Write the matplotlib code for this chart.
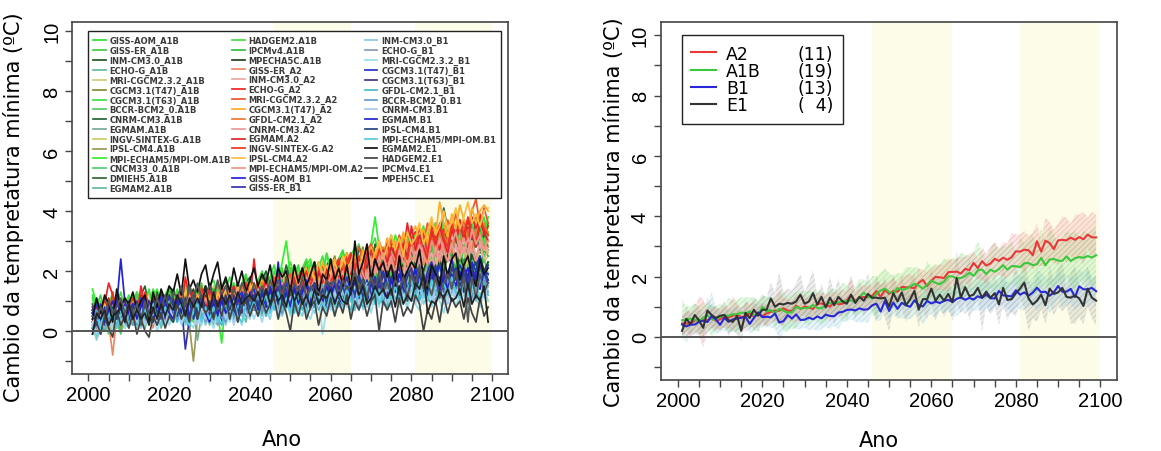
import numpy as np
import matplotlib
matplotlib.use('Agg')
import matplotlib.pyplot as plt
from matplotlib.lines import Line2D
from matplotlib.ticker import MultipleLocator

plt.rcParams['hatch.linewidth'] = 0.5

first_year = 2001
last_year = 2099
periods = [(2046, 2065), (2081, 2100)]   # periodos destacados

# ---------------- cenario A1B (valores em decimos de grau) ----------------
a1b_names = ['GISS-AOM_A1B', 'GISS-ER_A1B', 'INM-CM3.0_A1B', 'ECHO-G_A1B',
             'MRI-CGCM2.3.2_A1B', 'CGCM3.1(T47)_A1B', 'CGCM3.1(T63)_A1B',
             'BCCR-BCM2_0.A1B', 'CNRM-CM3.A1B', 'EGMAM.A1B', 'INGV-SINTEX-G.A1B',
             'IPSL-CM4.A1B', 'MPI-ECHAM5/MPI-OM.A1B', 'CNCM33_0.A1B', 'DMIEH5.A1B',
             'EGMAM2.A1B', 'HADGEM2.A1B', 'IPCMv4.A1B', 'MPECHA5C.A1B']
a1b_colors = ['#33DD33', '#44CC44', '#225522', '#66BB99', '#CCCC77', '#888833',
              '#44DD44', '#55CC66', '#226633', '#77AA99', '#CCCC66', '#999955',
              '#33EE33', '#55CC77', '#336633', '#66BB99', '#44DD44', '#33BB44',
              '#224422']
a1b_runs = [
    [9, 11, 4, 2, 6, 10, 8, 3, 5, 9, 12, 7, 5, 10, 13, 8, 4, 6, 11, 14,
     9, 6, 12, 14, 7, 3, 8, 13, 11, 6, 9, 14, 12, 7, 5, 11, 16, 13, 8, 12,
     15, 10, 13, 18, 14, 9, 16, 20, 15, 11, 16, 20, 13, 11, 17, 21, 15, 12, 18, 22,
     16, 14, 21, 24, 18, 15, 22, 19, 25, 20, 17, 24, 26, 19, 16, 23, 27, 20, 18, 25,
     28, 21, 19, 26, 29, 22, 20, 27, 24, 30, 23, 21, 28, 31, 24, 22, 29, 25, 27],
    [4, 8, 12, 6, 3, 7, 11, 9, 2, 6, 10, 13, 6, 4, 9, 12, 7, 3, 8, 13,
     11, 5, 9, 14, 10, 6, 13, 16, 8, 5, 12, 15, 9, 7, 13, 16, 10, 8, 14, 17,
     12, 9, 16, 19, 13, 11, 17, 21, 14, 12, 19, 22, 15, 13, 20, 23, 16, 14, 21, 18,
     24, 17, 15, 22, 26, 19, 23, 17, 25, 28, 21, 19, 27, 24, 18, 26, 30, 22, 20, 28,
     25, 30, 23, 21, 29, 32, 24, 27, 31, 25, 29, 33, 26, 24, 31, 28, 34, 27, 30],
    [6, 2, -1, 5, 9, 7, 3, 8, 11, 4, 2, 7, 10, 5, 3, 9, 12, 8, 4, 6,
     12, 9, 4, 7, 13, 10, 5, 11, 15, 8, 6, 10, 14, 11, 7, 12, 16, 9, 13, 17,
     12, 8, 14, 18, 13, 10, 15, 19, 16, 11, 14, 19, 16, 12, 18, 22, 15, 13, 20, 17,
     23, 18, 14, 20, 25, 21, 16, 22, 19, 26, 22, 18, 25, 28, 21, 19, 26, 23, 29, 24,
     20, 27, 30, 23, 26, 31, 24, 22, 29, 27, 32, 25, 23, 30, 28, 33, 26, 29, 27],
    [1, -2, 4, 7, 3, 0, 5, 8, 4, 1, 6, 9, 3, 1, 7, 10, 5, 2, 8, 4,
     3, 7, 10, 4, 1, 8, -3, 5, 9, 6, 2, 8, 11, 6, 4, 9, 12, 7, 3, 10,
     13, 8, 5, 11, 14, 9, 6, 12, 15, 10, 7, 13, 10, 6, 14, 16, 9, 12, 8, 15,
     17, 11, 9, 15, 18, 12, 10, 16, 13, 9, 15, 19, 12, 10, 17, 20, 14, 11, 18, 16,
     12, 18, 21, 14, 11, 19, 16, 13, 20, 17, 14, 21, 17, 12, 19, 22, 15, 18, 16],
    [7, 3, 9, 11, 5, 2, 8, 10, 4, 7, 3, 8, 11, 6, 9, 13, 7, 4, 10, 12,
     6, 11, 13, 8, 5, 10, 14, 9, 7, 12, 15, 10, 6, 9, 14, 11, 7, 13, 16, 10,
     8, 13, 17, 12, 9, 15, 18, 11, 14, 19, 13, 17, 20, 14, 12, 18, 21, 16, 13, 19,
     22, 16, 14, 20, 23, 17, 19, 24, 18, 15, 21, 25, 19, 17, 24, 20, 26, 22, 18, 23,
     27, 21, 24, 19, 26, 28, 22, 20, 25, 29, 22, 26, 20, 27, 24, 21, 28, 23, 25],
    [3, 8, 6, 0, 4, 9, 5, 1, 7, 10, 8, 3, 6, 11, 9, 5, 2, 8, 12, 10,
     5, 9, 13, 10, 6, 4, 12, 15, 9, 7, 13, 16, 10, 8, 14, 12, 9, 15, 18, 13,
     10, 15, 19, 14, 11, 17, 20, 13, 16, 21, 17, 14, 20, 23, 16, 19, 22, 18, 15, 21,
     25, 19, 17, 23, 26, 21, 24, 28, 20, 23, 27, 22, 25, 29, 23, 26, 31, 24, 28, 25,
     22, 29, 32, 26, 24, 30, 27, 33, 28, 25, 31, 27, 34, 29, 26, 32, 30, 28, 33],
    [12, 6, 3, 8, 11, 5, 9, 13, 7, 4, 9, 13, 10, 5, 8, 14, 11, 7, 12, 15,
     10, 7, 13, 16, 11, 8, 14, 12, 9, 15, 17, 12, 9, 14, 18, 13, 10, 16, 19, 14,
     11, 17, 20, 15, 18, 22, 16, 13, 19, 23, 18, 15, 21, 24, 19, 17, 23, 20, 26, 21,
     19, 24, 27, 22, 20, 26, 29, 23, 25, 28, 31, 25, 23, 28, 32, 27, 24, 30, 33, 27,
     26, 31, 35, 29, 27, 33, 30, 36, 31, 28, 34, 30, 37, 32, 29, 35, 33, 38, 32],
    [2, 5, 9, 4, 1, 6, 3, -1, 5, 8, 4, 1, 7, 9, 3, 6, 10, 5, 2, 8,
     11, 7, 3, 6, 10, 4, 8, 12, 6, 9, 5, 11, 8, 4, 10, 13, 7, 9, 12, 6,
     10, 14, 8, 11, 15, 9, 7, 13, 16, 10, 13, 9, 15, 17, 11, 14, 18, 12, 10, 16,
     14, 18, 12, 16, 20, 15, 13, 19, 17, 11, 17, 21, 15, 19, 14, 18, 22, 16, 20, 17,
     15, 21, 18, 23, 17, 20, 24, 18, 16, 22, 19, 23, 17, 21, 25, 18, 20, 24, 19],
    [6, 10, 7, 2, 9, 4, 12, 8, 3, 7, 10, 6, 12, 15, 8, 11, 4, 13, 9, 12,
     14, 10, 6, 11, 15, 12, 7, 13, 10, 16, 12, 8, 14, 17, 11, 15, 13, 9, 16, 18,
     14, 11, 17, 20, 15, 13, 19, 16, 22, 17, 20, 16, 14, 21, 18, 23, 19, 15, 22, 24,
     18, 23, 26, 21, 24, 19, 28, 24, 27, 22, 29, 25, 23, 28, 31, 26, 22, 29, 32, 27,
     33, 28, 26, 34, 30, 36, 31, 41, 34, 29, 32, 37, 31, 35, 30, 38, 33, 31, 36],
    [-1, 3, 8, 5, 2, 6, 9, 4, 1, 7, 3, 8, 5, 10, 7, 2, 9, 6, 4, 11,
     7, 10, 4, 9, 6, 12, 8, 3, 11, 7, 10, 13, 7, 5, 11, 14, 9, 12, 6, 14,
     9, 13, 10, 16, 12, 8, 11, 17, 13, 15, 10, 17, 14, 12, 16, 19, 13, 11, 18, 15,
     16, 12, 18, 21, 15, 13, 19, 17, 22, 16, 20, 15, 23, 18, 14, 21, 24, 17, 19, 22,
     17, 24, 20, 15, 23, 19, 26, 21, 17, 24, 19, 23, 18, 26, 21, 17, 24, 20, 22],
    [7, 2, 9, 6, 10, 4, 11, 7, 9, 3, 10, 7, 2, 9, 13, 5, 10, 8, 12, 7,
     3, 11, 9, 14, 10, 6, 12, 7, 11, 15, 8, 12, 16, 11, 7, 13, 10, 15, 12, 8,
     16, 13, 9, 17, 14, 18, 11, 15, 19, 13, 16, 20, 13, 17, 12, 21, 18, 15, 19, 22,
     15, 20, 23, 17, 21, 18, 24, 20, 16, 25, 21, 26, 22, 18, 27, 23, 20, 28, 24, 21,
     28, 22, 25, 29, 23, 26, 20, 30, 25, 27, 23, 29, 26, 21, 30, 25, 27, 31, 26],
    [3, 8, 1, 7, 2, 9, 5, 0, 8, 4, 9, 5, 2, 10, 7, 3, 12, 8, 4, 9,
     6, 10, 3, 8, 2, -10, 4, 9, 6, 12, 7, 12, 10, 5, 14, 8, 11, 15, 9, 12,
     16, 10, 13, 17, 11, 14, 18, 12, 15, 19, 13, 16, 20, 14, 18, 22, 16, 19, 15, 23,
     19, 16, 21, 25, 20, 22, 17, 24, 27, 21, 24, 28, 21, 25, 23, 29, 26, 23, 30, 25,
     27, 31, 25, 28, 33, 27, 29, 24, 32, 28, 30, 34, 27, 31, 26, 33, 29, 35, 30],
    [14, 9, 4, 10, 6, 11, 7, 3, 9, 12, 6, 10, 13, 8, 5, 11, 14, 9, 6, 12,
     9, 13, 6, 10, 15, 11, 7, 13, 9, 14, 10, 6, -4, 11, 14, 9, 13, 10, 15, 12,
     16, 11, 14, 18, 13, 20, 16, 23, 30, 19, 15, 21, 17, 22, 24, 18, 23, 19, 25, 21,
     19, 24, 26, 21, 25, 28, 22, 27, 24, 29, 38, 28, 25, 30, 26, 32, 28, 25, 31, 27,
     33, 29, 27, 34, 30, 36, 31, 28, 35, 33, 30, 35, 31, 37, 33, 29, 36, 32, 38],
    [1, 5, 9, 3, -1, 6, 2, 8, 4, 10, 6, 3, 9, 1, 8, 5, 10, 6, 2, 9,
     11, 7, 4, 10, 5, 12, 8, 3, 10, 6, 4, 10, 7, 12, 8, 5, 11, 13, 8, 6,
     12, 7, 14, 10, 13, 8, 15, 11, 14, 9, 16, 12, 9, 15, 17, 12, 10, 16, 11, 18,
     14, 11, 17, 19, 12, 15, 18, 13, 20, 16, 12, 19, 16, 21, 17, 13, 20, 17, 22, 18,
     15, 21, 18, 14, 22, 19, 16, 23, 18, 21, 17, 23, 15, 22, 19, 24, 20, 16, 23],
    [9, 3, 7, 11, 5, 8, 6, 2, 10, 7, 4, 10, 7, 12, 8, 5, 13, 9, 6, 11,
     13, 8, 12, 9, 14, 10, 6, 12, 15, 9, 7, 13, 10, 15, 11, 8, 14, 11, 16, 12,
     9, 15, 12, 17, 13, 10, 16, 19, 14, 17, 12, 18, 21, 16, 19, 14, 20, 17, 22, 18,
     15, 21, 18, 23, 19, 25, 20, 16, 24, 21, 26, 22, 19, 27, 23, 20, 28, 24, 21, 27,
     22, 29, 25, 21, 30, 26, 23, 31, 27, 24, 30, 26, 32, 28, 24, 31, 27, 33, 28],
    [-1, 4, 7, 2, 8, 1, 5, 10, 3, 6, 9, 2, 6, 3, 10, 5, 8, 1, 6, 9,
     4, 7, 11, 5, 3, 9, 4, 10, 7, 2, 8, 5, 10, 4, 11, 7, 12, 8, 5, 9,
     13, 7, 10, 6, 12, 14, 8, 12, 9, 15, 11, 8, 14, 16, 9, 12, 15, 10, 17, 13,
     9, 15, 12, 17, 13, 18, 15, 11, 17, 14, 19, 15, 12, 18, 16, 20, 13, 18, 15, 21,
     17, 14, 20, 22, 15, 18, 13, 21, 16, 19, 22, 15, 19, 16, 23, 17, 21, 14, 19],
    [11, 5, 10, 4, 8, 13, 6, 10, 5, 11, 7, 12, 6, 10, 14, 8, 5, 12, 7, 13,
     10, 14, 8, 6, 13, 10, 15, 11, 7, 14, 11, 8, 15, 12, 9, 16, 13, 10, 17, 14,
     12, 17, 14, 12, 18, 15, 20, 16, 13, 19, 22, 17, 20, 15, 23, 18, 21, 25, 19, 22,
     17, 23, 20, 26, 21, 24, 18, 25, 27, 22, 24, 28, 22, 26, 29, 23, 27, 31, 25, 28,
     30, 25, 32, 27, 24, 31, 28, 34, 29, 26, 32, 27, 34, 30, 36, 28, 33, 29, 35],
    [5, 9, 3, 8, 2, 6, 10, 4, 9, 3, 8, 4, 11, 5, 9, 3, 10, 7, 12, 5,
     10, 6, 4, 11, 8, 13, 5, 10, 6, 12, 14, 8, 12, 7, 13, 10, 6, 14, 11, 8,
     13, 9, 15, 11, 16, 12, 9, 17, 13, 10, 14, 18, 12, 16, 20, 15, 13, 19, 14, 18,
     21, 15, 19, 14, 22, 19, 16, 23, 17, 21, 16, 22, 24, 18, 23, 17, 25, 21, 18, 24,
     26, 20, 25, 22, 18, 27, 23, 20, 28, 24, 21, 27, 22, 26, 29, 23, 20, 27, 25],
    [7, 10, 4, 9, 3, 8, 11, 5, 2, 8, 10, 5, 12, 7, 4, 11, 8, 13, 5, 10,
     6, 12, 8, 5, 11, 14, 9, 6, 12, 7, 13, 10, 7, 14, 8, 12, 15, 10, 7, 13,
     9, 14, 11, 16, 12, 8, 15, 12, 17, 13, 10, 16, 13, 18, 14, 11, 17, 20, 15, 12,
     18, 14, 20, 16, 13, 21, 18, 15, 22, 17, 20, 23, 17, 21, 16, 24, 19, 22, 25, 20,
     17, 23, 20, 25, 21, 18, 24, 19, 26, 22, 19, 25, 21, 18, 26, 22, 25, 20, 23],
]

# ---------------- cenario A2 ----------------
a2_names = ['GISS-ER_A2', 'INM-CM3.0_A2', 'ECHO-G_A2', 'MRI-CGCM2.3.2_A2',
            'CGCM3.1(T47)_A2', 'GFDL-CM2.1_A2', 'CNRM-CM3.A2', 'EGMAM.A2',
            'INGV-SINTEX-G.A2', 'IPSL-CM4.A2', 'MPI-ECHAM5/MPI-OM.A2']
a2_colors = ['#EE8866', '#E8AAA0', '#EE2222', '#EE5533', '#FFAA22', '#EE7733',
             '#EE9999', '#DD2233', '#EE3322', '#FFBB44', '#EE9988']
a2_runs = [
    [2, 6, -1, 7, 3, -8, 5, 8, 1, 7, 5, 2, 9, 4, 8, 1, 7, 10, 4, 8,
     3, 9, 6, 11, 4, 7, 12, 5, 9, 13, 6, 10, 14, 8, 11, 5, 12, 9, 15, 10,
     13, 8, 14, 11, 16, 9, 17, 12, 18, 13, 10, 16, 13, 19, 14, 17, 11, 20, 15, 18,
     21, 15, 19, 23, 16, 21, 18, 24, 19, 25, 20, 26, 19, 27, 22, 28, 23, 20, 29, 24,
     25, 30, 22, 28, 32, 26, 23, 31, 27, 33, 28, 25, 34, 29, 26, 35, 30, 27, 32],
    [5, 0, 7, 2, 6, 1, 8, 3, 7, 2, 8, 5, 1, 9, 6, 3, 10, 4, 8, 6,
     9, 4, 10, 6, 3, 12, 7, 10, 5, 8, 11, 6, 9, 13, 7, 12, 9, 5, 13, 10,
     14, 9, 12, 8, 15, 11, 14, 9, 16, 12, 15, 11, 17, 13, 10, 18, 14, 17, 12, 19,
     14, 18, 20, 15, 21, 17, 14, 22, 18, 21, 23, 18, 16, 24, 20, 25, 21, 18, 26, 22,
     25, 20, 27, 23, 26, 21, 28, 24, 27, 22, 29, 24, 28, 23, 30, 25, 29, 24, 27],
    [3, 7, 1, 9, 16, 12, 4, 8, 3, 7, 11, 5, 15, 8, 4, 10, 6, 12, 5, 8,
     4, 10, 6, 18, 11, 13, 7, 12, 9, 14, 10, 13, 7, 15, 11, 8, 14, 12, 16, 10,
     24, 13, 10, 16, 12, 15, 17, 12, 18, 15, 12, 18, 15, 20, 16, 13, 19, 22, 17, 20,
     23, 17, 21, 25, 19, 24, 21, 26, 22, 27, 23, 28, 24, 21, 29, 25, 30, 26, 36, 28,
     31, 26, 33, 29, 35, 31, 27, 34, 30, 36, 32, 37, 33, 29, 38, 34, 39, 32, 35],
    [6, 1, 8, 3, 9, 5, 2, 10, 6, 3, 9, 5, 11, 4, 7, 12, 8, 5, 10, 6,
     11, 6, 13, 9, 5, 12, 8, 14, 10, 6, 12, 8, 14, 10, 13, 7, 15, 11, 8, 14,
     16, 11, 15, 17, 12, 18, 14, 11, 17, 19, 14, 18, 20, 15, 21, 17, 22, 18, 15, 23,
     19, 24, 21, 26, 22, 25, 28, 23, 27, 29, 25, 30, 26, 23, 31, 27, 32, 28, 25, 33,
     29, 34, 30, 36, 31, 27, 35, 32, 37, 33, 39, 34, 37, 32, 40, 44, 35, 41, 36],
    [7, 2, 9, 5, 1, 8, 3, 6, 10, 4, 2, 8, 5, 9, 6, 11, 3, 7, 10, 5,
     8, 12, 6, 9, 13, 8, 5, 11, 14, 9, 12, 7, 13, 10, 15, 11, 8, 14, 11, 16,
     12, 15, 17, 13, 10, 16, 18, 14, 17, 12, 19, 15, 18, 21, 16, 20, 17, 23, 18, 21,
     24, 19, 23, 26, 21, 25, 20, 27, 23, 28, 24, 29, 25, 31, 27, 30, 26, 33, 28, 32,
     35, 30, 34, 29, 37, 32, 43, 36, 31, 39, 34, 42, 37, 35, 41, 36, 40, 42, 40],
    [8, 3, 1, 7, 2, 9, 5, 8, 3, 6, 10, 4, 8, 3, 9, 6, 11, 7, 4, 10,
     5, 10, 12, 6, 11, 8, 5, 12, 9, 13, 8, 12, 7, 14, 10, 13, 8, 15, 11, 9,
     14, 10, 16, 12, 15, 17, 12, 16, 11, 18, 13, 17, 20, 15, 18, 13, 21, 18, 15, 22,
     17, 21, 16, 23, 20, 24, 18, 22, 25, 21, 26, 21, 28, 24, 20, 27, 29, 25, 22, 30,
     25, 31, 27, 23, 32, 29, 34, 27, 31, 26, 33, 28, 35, 31, 27, 34, 30, 36, 32],
    [0, 4, 7, 1, 5, 9, 2, 6, 3, 8, 4, 9, 3, 6, 10, 4, 8, 2, 9, 5,
     10, 5, 9, 4, 11, 7, 10, 13, 5, 8, 6, 11, 8, 12, 9, 5, 13, 10, 7, 12,
     9, 14, 11, 8, 15, 12, 9, 16, 13, 10, 17, 12, 15, 11, 18, 14, 16, 20, 15, 12,
     17, 21, 15, 18, 22, 16, 19, 23, 17, 24, 19, 25, 21, 18, 26, 22, 19, 27, 23, 20,
     27, 22, 29, 25, 21, 28, 24, 30, 26, 29, 24, 30, 26, 31, 27, 23, 30, 27, 28],
    [4, 8, 2, 6, 11, 5, 9, 3, 7, 5, 9, 4, 12, 7, 3, 10, 6, 11, 8, 4,
     10, 6, 11, 5, 13, 8, 12, 9, 6, 14, 10, 7, 13, 9, 12, 15, 10, 13, 8, 14,
     11, 15, 12, 17, 13, 10, 16, 14, 18, 11, 17, 14, 19, 15, 18, 12, 20, 16, 21, 17,
     19, 23, 17, 21, 25, 20, 24, 18, 26, 22, 24, 20, 27, 23, 28, 25, 21, 29, 24, 35,
     27, 32, 28, 24, 33, 29, 35, 30, 26, 34, 30, 35, 31, 37, 32, 28, 36, 33, 30],
    [5, 9, 2, 8, 4, 13, 6, 10, 4, 9, 6, 10, 7, 13, 8, 4, 11, 7, 10, 12,
     8, 12, 9, 6, 13, 10, 7, 14, 10, 8, 13, 8, 15, 11, 7, 14, 11, 8, 16, 12,
     15, 10, 13, 18, 12, 16, 19, 13, 17, 14, 18, 13, 16, 20, 15, 19, 22, 17, 20, 15,
     21, 24, 18, 23, 26, 21, 25, 19, 23, 27, 22, 27, 24, 29, 25, 22, 30, 27, 24, 31,
     33, 28, 32, 26, 34, 30, 36, 31, 28, 35, 31, 36, 32, 38, 33, 29, 37, 34, 32],
    [2, 7, 4, 9, 5, 1, 8, 5, 9, 3, 7, 10, 4, 9, 6, 11, 7, 3, 10, 7,
     11, 6, 9, 13, 8, 5, 12, 9, 14, 10, 7, 13, 10, 14, 8, 11, 15, 12, 9, 14,
     16, 11, 14, 10, 17, 13, 15, 19, 14, 16, 20, 15, 18, 14, 21, 17, 23, 18, 22, 19,
     23, 19, 25, 21, 23, 27, 21, 25, 28, 22, 26, 30, 24, 28, 32, 27, 31, 25, 33, 29,
     31, 36, 29, 33, 38, 32, 35, 40, 34, 36, 41, 34, 38, 43, 36, 39, 35, 40, 41],
    [7, 2, 8, 3, 0, 5, 9, 3, 6, 10, 4, 8, 3, 9, 6, 2, 10, 5, 8, 4,
     7, 11, 5, 8, 12, 6, 9, 5, 11, 8, 12, 7, 10, 6, 13, 9, 14, 10, 7, 12,
     8, 14, 11, 15, 9, 12, 16, 10, 13, 17, 12, 16, 11, 18, 14, 17, 12, 19, 15, 18,
     21, 16, 20, 15, 22, 18, 23, 19, 16, 24, 19, 22, 26, 20, 25, 19, 27, 23, 20, 28,
     23, 29, 25, 22, 30, 26, 31, 27, 23, 29, 33, 27, 31, 26, 34, 29, 32, 27, 30],
]

# ---------------- cenario B1 ----------------
b1_names = ['GISS-AOM_B1', 'GISS-ER_B1', 'INM-CM3.0_B1', 'ECHO-G_B1',
            'MRI-CGCM2.3.2_B1', 'CGCM3.1(T47)_B1', 'CGCM3.1(T63)_B1',
            'GFDL-CM2.1_B1', 'BCCR-BCM2_0.B1', 'CNRM-CM3.B1', 'EGMAM.B1',
            'IPSL-CM4.B1', 'MPI-ECHAM5/MPI-OM.B1']
b1_colors = ['#2222DD', '#3333AA', '#88CCDD', '#8899BB', '#99DDEE', '#2233CC',
             '#443388', '#44BBCC', '#6699CC', '#AACCEE', '#2222CC', '#224488',
             '#55CCDD']
b1_runs = [
    [7, 1, 5, 2, 8, 4, 9, 24, 10, 5, 8, 3, 9, 4, 10, 6, 2, 7, 11, 5,
     9, 4, 10, 6, 2, 8, 4, 9, 3, 6, 10, 4, 8, 3, 9, 6, 11, 7, 10, 12,
     7, 13, 9, 12, 6, 10, 14, 8, 12, 7, 13, 10, 14, 8, 11, 15, 9, 13, 8, 14,
     10, 15, 12, 9, 16, 11, 14, 17, 11, 15, 18, 12, 16, 11, 17, 14, 19, 15, 12, 18,
     14, 19, 13, 17, 20, 15, 18, 13, 19, 16, 20, 14, 18, 21, 15, 19, 14, 20, 17],
    [1, 6, 2, 7, 4, 8, 2, 5, 9, 3, 7, 2, 8, 5, 9, 3, 6, 10, 4, 8,
     11, 5, 9, -6, 4, 10, 6, 3, 8, 4, 5, 9, 3, 8, 4, 10, 6, 9, 11, 7,
     10, 12, 7, 11, 13, 8, 12, 7, 14, 10, 12, 8, 13, 15, 9, 14, 11, 8, 13, 16,
     11, 9, 15, 10, 14, 17, 11, 15, 10, 16, 12, 17, 14, 11, 18, 15, 12, 17, 13, 19,
     17, 12, 18, 15, 20, 13, 16, 19, 14, 18, 13, 19, 16, 12, 18, 20, 14, 19, 16],
    [2, -3, 1, 5, 0, 6, 3, 7, 1, 4, 2, 7, 1, 6, 8, 3, 2, 7, 9, 4,
     7, 3, 8, 2, 5, 9, 3, 7, 2, 5, 3, 8, 5, 2, 7, 3, 9, 5, 8, 6,
     9, 5, 10, 7, 4, 11, 8, 5, 10, 6, 11, 7, 5, 12, 9, 6, 11, 7, 13, 8,
     6, 12, 9, 13, 10, 7, 12, 14, 8, 11, 13, 9, 14, 8, 11, 15, 9, 13, 8, 14,
     10, 15, 9, 12, 16, 10, 14, 9, 15, 12, 14, 10, 16, 11, 9, 15, 12, 14, 10],
    [5, 1, 7, 2, 6, 8, 3, 7, 2, 5, 8, 4, 2, 7, 9, 3, 8, 5, 10, 6,
     4, 9, 6, 3, 8, 4, 10, 6, 3, 7, 4, 2, 8, 5, 9, 6, 3, 9, 6, 10,
     7, 11, 8, 5, 12, 9, 6, 11, 13, 8, 12, 8, 14, 10, 7, 13, 10, 15, 11, 8,
     14, 10, 8, 13, 15, 9, 14, 11, 16, 12, 9, 15, 12, 16, 10, 14, 17, 11, 15, 10,
     16, 11, 15, 18, 13, 10, 17, 14, 11, 16, 18, 12, 16, 11, 17, 14, 19, 12, 15],
    [3, -1, 5, 1, 6, 0, 4, 7, 1, 3, 6, 1, 5, 7, 2, 6, 0, 4, 8, 2,
     5, 8, 2, 7, 3, 1, 6, 2, 7, 4, 1, 6, 2, 7, 3, 8, 5, 2, 7, 9,
     4, 8, 3, 9, 5, 10, 4, 7, 11, 5, 9, 5, 10, 6, 4, 9, 11, -1, 7, 10,
     5, 11, 7, 12, 6, 10, 13, 7, 11, 6, 12, 8, 13, 7, 10, 14, 8, 12, 7, 13,
     9, 7, 12, 14, 8, 13, 10, 6, 12, 14, 8, 13, 10, 7, 14, 11, 8, 13, 10],
    [6, 9, 3, 8, 2, 7, 10, 4, 8, 3, 9, 5, 11, 6, 4, 10, 5, 12, 7, 11,
     6, 11, 8, 5, 10, 12, 6, 11, 8, 5, 11, 7, 12, 6, 10, 5, 11, 13, 7, 12,
     14, 9, 13, 8, 15, 11, 14, 9, 16, 12, 15, 10, 13, 17, 11, 16, 13, 10, 17, 14,
     11, 17, 14, 18, 12, 15, 19, 13, 17, 12, 18, 14, 20, 16, 13, 19, 21, 15, 20, 17,
     21, 16, 14, 20, 23, 17, 22, 16, 19, 24, 17, 22, 19, 16, 23, 20, 25, 18, 22],
    [8, 3, 7, 2, 9, 4, 8, 3, 6, 10, 4, 9, 6, 3, 10, 7, 4, 9, 11, 5,
     10, 6, 11, 8, 4, 10, 6, 12, 8, 5, 10, 6, 11, 8, 5, 12, 9, 6, 13, 10,
     7, 13, 10, 14, 8, 12, 15, 9, 13, 8, 14, 10, 15, 12, 9, 16, 13, 10, 17, 11,
     15, 11, 17, 13, 10, 16, 18, 12, 15, 11, 17, 13, 19, 15, 12, 20, 16, 13, 18, 21,
     15, 20, 14, 18, 22, 16, 13, 20, 15, 21, 18, 14, 21, 16, 20, 15, 22, 17, 16],
    [1, 6, 2, 0, 7, 3, 1, 6, 8, 2, 6, 2, 8, 3, 7, 9, 4, 2, 7, 10,
     7, 3, 9, 4, 2, 8, 4, 10, 5, 3, 8, 4, 2, 7, 9, 4, 8, 10, 5, 9,
     11, 6, 10, 5, 12, 7, 11, 6, 13, 8, 6, 11, 7, 12, 8, 13, 7, 11, 14, 8,
     12, 8, 13, 9, 7, 14, 10, 8, 13, 15, 9, 14, 10, 8, 15, 11, 9, 14, 16, 10,
     14, 10, 15, 11, 9, 16, 12, 10, 15, 17, 11, 16, 12, 10, 17, 13, 11, 16, 12],
    [5, 7, 2, 6, 9, 3, 7, 2, 8, 4, 2, 7, 3, 9, 4, 8, 3, 7, 10, 4,
     8, 4, 9, 5, 3, 8, 10, 4, 5, 9, 4, 9, 5, 3, 10, 6, 4, 9, 5, 11,
     7, 12, 6, 11, 7, 13, 8, 6, 12, 9, 8, 13, 9, 7, 14, 10, 8, 13, 15, 9,
     14, 9, 13, 16, 10, 14, 8, 15, 11, 10, 15, 11, 9, 16, 12, 17, 11, 15, 10, 16,
     12, 17, 11, 15, 18, 12, 16, 11, 17, 13, 16, 12, 18, 13, 11, 17, 14, 18, 13],
    [2, 6, 1, 7, 3, 2, 8, 3, 6, 1, 7, 3, 8, 2, 6, 9, 3, 7, 2, 8,
     4, 9, 3, 7, 10, 4, 2, 8, 4, 9, 5, 3, 9, 4, 8, 2, 7, 10, 6, 4,
     9, 5, 11, 6, 10, 12, 6, 10, 7, 11, 13, 8, 12, 7, 11, 14, 8, 12, 9, 7,
     13, 9, 14, 8, 12, 15, 9, 13, 16, 10, 14, 10, 15, 11, 8, 14, 16, 10, 15, 11,
     9, 15, 11, 16, 10, 14, 17, 11, 9, 15, 11, 17, 12, 10, 16, 12, 18, 11, 15],
    [6, 2, 8, 3, 7, 10, 4, 8, 3, 7, 9, 4, 8, 11, 5, 3, 9, 5, 10, 6,
     4, 10, 6, 11, 5, 9, 4, 10, 6, 3, 9, 5, 10, 6, 11, 7, 5, 12, 8, 13,
     11, 7, 13, 8, 14, 10, 23, 9, 13, 8, 14, 9, 13, 16, 10, 8, 14, 10, 15, 11,
     16, 11, 9, 15, 12, 17, 11, 15, 10, 16, 12, 18, 13, 11, 17, 13, 19, 14, 12, 17,
     20, 14, 18, 12, 17, 21, 13, 18, 14, 19, 15, 20, 13, 19, 22, 16, 14, 20, 19],
    [7, 3, 9, 4, 2, 8, 4, 9, 5, 3, 8, 10, 4, 9, 5, 11, 6, 4, 9, 12,
     9, 5, 11, 6, 10, 4, 9, 12, 6, 10, 5, 10, 6, 12, 7, 11, 6, 10, 13, 7,
     12, 8, 14, 9, 7, 13, 9, 15, 10, 14, 9, 15, 11, 8, 14, 16, 10, 14, 9, 15,
     17, 11, 15, 10, 16, 12, 18, 11, 15, 17, 12, 18, 14, 20, 13, 17, 11, 19, 14, 18,
     14, 20, 15, 13, 19, 22, 16, 14, 20, 16, 21, 15, 19, 14, 20, 23, 16, 20, 17],
    [0, 5, 1, 6, 2, 7, 1, 5, 8, 2, 6, 8, 2, 7, 3, 9, 4, 2, 8, 4,
     3, 7, 9, 4, 2, 7, 9, 3, 8, 4, 8, 3, 7, 9, 4, 10, 5, 3, 9, 6,
     10, 5, 9, 12, 6, 10, 13, 7, 11, 6, 12, 7, 11, 6, 13, 8, 12, 9, 7, 13,
     8, 13, 9, 14, 10, 7, 13, 9, 15, 10, 14, 9, 13, 16, 10, 15, 11, 9, 14, 17,
     11, 16, 12, 10, 17, 13, 11, 16, 12, 18, 13, 11, 17, 12, 16, 10, 18, 13, 15],
]

# ---------------- cenario E1 ----------------
e1_names = ['EGMAM2.E1', 'HADGEM2.E1', 'IPCMv4.E1', 'MPEH5C.E1']
e1_colors = ['#111111', '#444444', '#555555', '#222222']
e1_runs = [
    [4, 11, 6, 12, 9, 3, 14, 8, 11, 9, 13, 7, 10, 12, 3, 13, 8, 14, 10, 15,
     13, 19, 12, 24, 14, 17, 13, 19, 22, 14, 19, 23, 14, 18, 13, 21, 15, 20, 13, 17,
     21, 15, 19, 16, 22, 14, 21, 18, 20, 13, 22, 16, 21, 15, 19, 23, 12, 19, 17, 24,
     17, 21, 15, 22, 14, 30, 19, 23, 29, 17, 24, 20, 23, 18, 22, 15, 25, 17, 20, 23,
     21, 27, 18, 14, 22, 19, 15, 25, 18, 24, 26, 17, 22, 25, 18, 15, 24, 19, 21],
    [0, 3, -1, 5, 1, -2, 7, 2, 5, 1, 6, -1, 4, 0, -2, 5, 2, 6, 1, 5,
     3, 9, 4, 7, 3, 10, 4, 9, 6, 8, 4, 10, 5, 11, 4, 9, 3, 8, 10, 5,
     9, 5, 10, 6, 9, 11, 4, 10, 6, 0, 10, 5, 11, 4, 8, 10, 2, 8, 5, 11,
     5, 10, 6, 12, 4, 10, 7, 11, 5, 10, 12, 0, 10, 7, 10, 3, 11, 5, 8, 6,
     12, 9, 0, 7, 4, 10, 3, 12, 6, 11, 8, 10, 4, 11, 6, 3, 11, 5, 8],
    [5, 4, 8, 5, 10, 6, 8, 11, 6, 9, 6, 9, 2, 10, 5, 6, 11, 7, 12, 7,
     13, 11, 15, 8, 15, 10, 16, 11, 13, 15, 11, 17, 12, 15, 10, 14, 11, 16, 13, 10,
     16, 12, 15, 12, 17, 13, 17, 11, 18, 12, 16, 13, 18, 11, 15, 14, 13, 11, 17, 15,
     17, 12, 17, 14, 15, 20, 14, 17, 11, 18, 14, 20, 13, 16, 12, 17, 14, 18, 10, 19,
     15, 22, 14, 16, 12, 18, 11, 16, 19, 14, 20, 12, 18, 3, 18, 11, 19, 13, 16],
    [-1, 6, 4, 7, 2, 5, 6, 8, 3, 9, 4, 7, 4, 6, 2, 8, 4, 9, 5, 9,
     7, 12, 9, 5, 11, 8, 11, 8, 15, 7, 13, 8, 12, 9, 12, 8, 13, 9, 11, 12,
     10, 13, 9, 14, 9, 14, 10, 12, 8, 15, 10, 13, 9, 12, 8, 14, 9, 12, 11, 14,
     9, 13, 10, 9, 13, 18, 12, 15, 9, 11, 15, 12, 14, 11, 14, 8, 15, 9, 12, 10,
     16, 14, 19, 6, 10, 9, 13, 11, 14, 10, 11, 14, 8, 16, 9, 12, 10, 15, 3],
]

scenarios = [
    ('A2', a2_runs, '#E83838', '#F08A8A'),
    ('A1B', a1b_runs, '#3CC83C', '#7ADD7A'),
    ('B1', b1_runs, '#2828D8', '#8CC4E0'),
    ('E1', e1_runs, '#333333', '#A0A0A0'),
]


def run_years(run):
    return first_year + np.arange(len(run))


def ensemble(runs):
    # media e faixa 5-95% entre os modelos de cada cenario
    n = last_year - first_year + 1
    arr = np.full((len(runs), n), np.nan)
    for i, r in enumerate(runs):
        k = min(len(r), n)
        arr[i, :k] = np.array(r[:k], dtype=float) / 10.0
    mean = np.nanmean(arr, axis=0)
    lo = np.nanpercentile(arr, 5, axis=0)
    hi = np.nanpercentile(arr, 95, axis=0)
    return first_year + np.arange(n), mean, lo, hi


def style_axes(ax, ylim):
    for a, b in periods:
        ax.axvspan(a, b, color='#FCFCE8', lw=0, zorder=0)
    ax.set_xlim(1996, 2104)
    ax.set_ylim(*ylim)
    ax.set_xticks(range(2000, 2101, 20))
    ax.xaxis.set_minor_locator(MultipleLocator(5))
    ax.set_yticks(range(0, 11, 2))
    ax.yaxis.set_minor_locator(MultipleLocator(1))
    ax.tick_params(which='both', direction='out', length=5, width=1,
                   color='#444444', labelsize=14.5, pad=3)
    ax.tick_params(axis='y', labelrotation=90)
    for lab in ax.get_yticklabels():
        lab.set_va('center')
        lab.set_family('Liberation Sans')
    for lab in ax.get_xticklabels():
        lab.set_family('Liberation Sans')
    for sp in ax.spines.values():
        sp.set_color('#444444')
        sp.set_linewidth(1.2)
    ax.axhline(0, color='#555555', lw=1.4, zorder=4)
    ax.set_ylabel('Cambio da tempretatura mínima (ºC)', fontsize=15,
                  family='DejaVu Sans', va='center')
    ax.set_xlabel('Ano', fontsize=15, family='DejaVu Sans', va='center')


fig = plt.figure(figsize=(11.61, 4.52), dpi=100)

# ---- painel esquerdo: todos os modelos ----
ax1 = fig.add_axes([0.0623, 0.1704, 0.3755, 0.7788])
handles = []
for runs, names, colors in [(a1b_runs, a1b_names, a1b_colors),
                            (a2_runs, a2_names, a2_colors),
                            (b1_runs, b1_names, b1_colors),
                            (e1_runs, e1_names, e1_colors)]:
    for run, name, col in zip(runs, names, colors):
        ln, = ax1.plot(run_years(run), np.array(run) / 10.0, color=col,
                       lw=1.25, label=name, zorder=2)
        handles.append(ln)
style_axes(ax1, (-1.43, 10.3))
ax1.yaxis.set_label_coords(-0.136, 0.477)
ax1.xaxis.set_label_coords(0.481, -0.185)
leg1 = ax1.legend(handles=handles, ncol=3, loc='upper left',
                  bbox_to_anchor=(0.037, 0.974), borderaxespad=0,
                  prop={'family': 'DejaVu Sans', 'weight': 'bold', 'size': 6.0},
                  handlelength=1.45, handletextpad=0.5, labelspacing=0.09,
                  columnspacing=0.15, borderpad=0.6, fancybox=False,
                  edgecolor='#222222', framealpha=1)
leg1.get_frame().set_linewidth(1.0)
for t in leg1.get_texts():
    t.set_color('#3A3A3A')

# ---- painel direito: media por cenario ----
ax2 = fig.add_axes([0.5693, 0.1577, 0.3930, 0.7907])
for name, runs, lc, fc in reversed(scenarios):
    yrs, mean, lo, hi = ensemble(runs)
    ax2.fill_between(yrs, lo, hi, facecolor=fc, alpha=0.2, lw=0, zorder=1)
    ax2.fill_between(yrs, lo, hi, facecolor='none', edgecolor=fc, alpha=0.5,
                     hatch='//////', lw=0, zorder=1)
line_handles = []
for name, runs, lc, fc in scenarios:
    yrs, mean, lo, hi = ensemble(runs)
    ln, = ax2.plot(yrs, mean, color=lc, lw=1.5, zorder=3)
    line_handles.append((ln, name, len(runs)))
style_axes(ax2, (-1.42, 10.43))
ax2.yaxis.set_label_coords(-0.105, 0.472)
ax2.xaxis.set_label_coords(0.478, -0.169)

blank = [Line2D([], [], lw=0) for _ in line_handles]
counts = ['(%2d)' % n if n >= 10 else '(  %d)' % n for _, _, n in line_handles]
leg2 = ax2.legend([h for h, _, _ in line_handles] + blank,
                  [nm for _, nm, _ in line_handles] + counts,
                  ncol=2, loc='upper left', bbox_to_anchor=(0.046, 0.9645),
                  borderaxespad=0, prop={'family': 'DejaVu Sans', 'size': 12.5},
                  handlelength=1.4, handletextpad=0.6, labelspacing=-0.05,
                  columnspacing=0.1, borderpad=0.55, fancybox=False,
                  edgecolor='#222222', framealpha=1)
leg2.get_frame().set_linewidth(1.0)

fig.savefig('out.png', dpi=100)
